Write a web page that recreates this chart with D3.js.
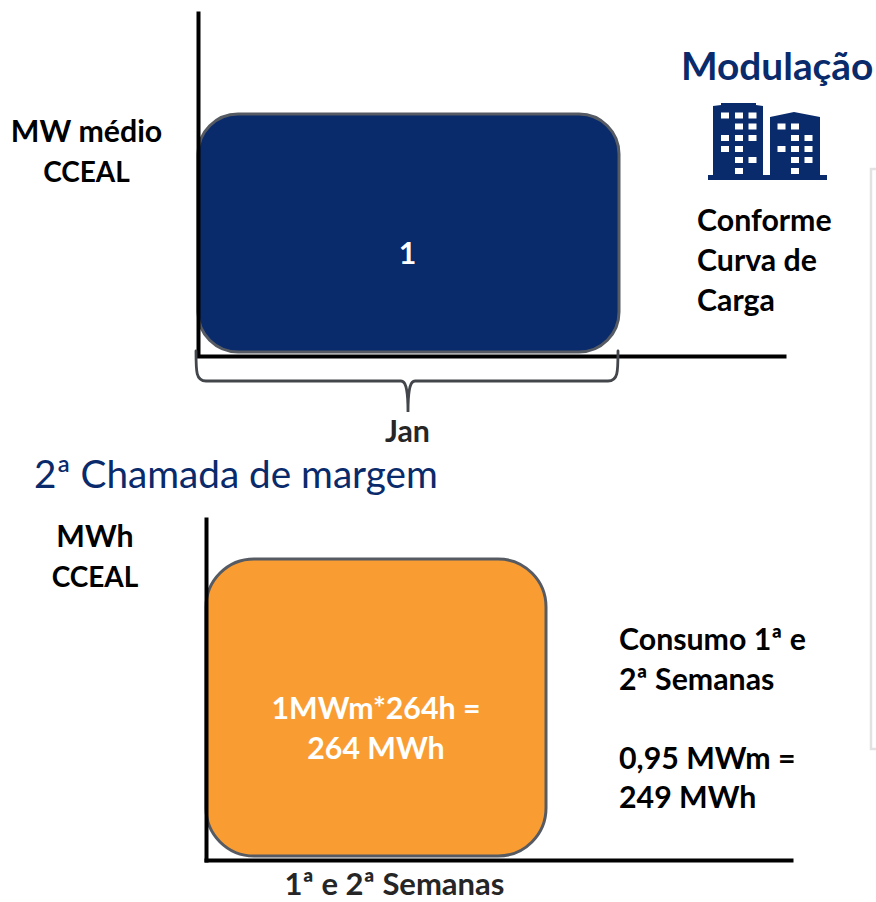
<!DOCTYPE html>
<html>
<head>
<meta charset="utf-8">
<script src="https://cdn.jsdelivr.net/npm/d3@7"></script>
<style>
html,body{margin:0;padding:0;background:#fff;overflow:hidden}
svg{display:block}
text{font-family:Lato,"Noto Sans",sans-serif;font-weight:700}
</style>
</head>
<body>
<script>
const topCategories = ["Jan"];
const topValues = [1];
const topValueLabels = ["1"];
const bottomCategories = ["1ª e 2ª Semanas"];
const bottomValues = [264];
const bottomValueLabels = [["1MWm*264h =", "264 MWh"]];
const topAxisTitle = ["MW médio", "CCEAL"];
const bottomAxisTitle = ["MWh", "CCEAL"];
const sectionTitle = "2ª Chamada de margem";
const modulationTitle = "Modulação";
const modulationNote = ["Conforme", "Curva de", "Carga"];
const consumptionNote = ["Consumo 1ª e", "2ª Semanas", "", "0,95 MWm =", "249 MWh"];
const towerWindowsA = ["111", "011", "111", "110", "011", "010"];
const towerWindowsB = ["110", "011", "111", "011", "010"];

const navy = "#092a6b", orange = "#f99d33", edge = "#565b63";
const W = 876, H = 902, bodySize = 30.3;
const svg = d3.select("body").append("svg").attr("width", W).attr("height", H);

// Note panel at the right edge
svg.append("rect").attr("x", 871).attr("y", 169).attr("width", 20).attr("height", 580)
  .attr("fill", "#fff").attr("stroke", "#e2e2e2").attr("stroke-width", 2.5);

function textBlock(lines, x, y, size, step, anchor, fill) {
  const t = svg.append("text").attr("text-anchor", anchor).attr("fill", fill).attr("font-size", size);
  lines.forEach((l, i) => t.append("tspan").attr("x", x).attr("y", y + i * step)
    .attr("font-size", l === "CCEAL" ? 28 : size).text(l));
  return t;
}

// Top chart
const x1 = d3.scaleBand().domain(topCategories).range([198, 619]);
const y1 = d3.scaleLinear().domain([0, 1]).range([352, 114]);
svg.selectAll(".bar1").data(topValues).join("rect").attr("class", "bar1")
  .attr("x", (d, i) => x1(topCategories[i])).attr("width", x1.bandwidth())
  .attr("y", d => y1(d)).attr("height", d => y1(0) - y1(d))
  .attr("rx", 40).attr("fill", navy).attr("stroke", edge).attr("stroke-width", 3);
svg.selectAll(".lab1").data(topValueLabels).join("text").attr("class", "lab1")
  .attr("x", (d, i) => x1(topCategories[i]) + x1.bandwidth() / 2 - 1).attr("y", 264)
  .attr("text-anchor", "middle").attr("fill", "#fff").attr("font-size", bodySize).text(d => d);

svg.append("g").attr("transform", "translate(198,0)")
  .call(d3.axisLeft(d3.scaleLinear().range([11, 356])).tickValues([]).tickSize(0))
  .select(".domain").attr("stroke", "#000").attr("stroke-width", 4);
svg.append("g").attr("transform", "translate(0,356)")
  .call(d3.axisBottom(d3.scaleLinear().range([196, 786])).tickValues([]).tickSize(0))
  .select(".domain").attr("stroke", "#000").attr("stroke-width", 4);

// Brace under the top chart
const bl = x1.range()[0] - 2, br = x1.range()[1] - 1, bm = (bl + br) / 2 + 1;
svg.append("path")
  .attr("d", `M${bl},351 C${bl},372 ${bl},381 ${bl + 10},381 L${bm - 7},381 C${bm - 3},381 ${bm},386 ${bm},412 C${bm},386 ${bm + 3},381 ${bm + 7},381 L${br - 10},381 C${br},381 ${br},372 ${br},351`)
  .attr("fill", "none").attr("stroke", "#43464b").attr("stroke-width", 2.8).attr("stroke-linecap", "round");
svg.selectAll(".cat1").data(topCategories).join("text").attr("class", "cat1")
  .attr("x", d => x1(d) + x1.bandwidth() / 2 - 1).attr("y", 442)
  .attr("text-anchor", "middle").attr("fill", "#262626").attr("font-size", bodySize).text(d => d);

textBlock(topAxisTitle, 86.5, 142, bodySize, 40, "middle", "#000");

// Modulation block
svg.append("text").attr("x", 681).attr("y", 80).attr("fill", navy).attr("font-size", 38.8).text(modulationTitle);
const icon = svg.append("g").attr("fill", navy);
icon.append("path").attr("d", "M708,180V175H713V106L721,105V103H756V105L763,106V175H770V117L794,112L820,117V175H827V180Z");
const colsA = [721, 735, 748.5], rowsA = [112.5, 123.5, 135, 146, 157, 168];
const colsB = [777.5, 791, 804.5], rowsB = [123.5, 135, 146, 157, 168];
function windows(pattern, cols, rows) {
  pattern.forEach((r, j) => r.split("").forEach((c, i) => {
    if (c === "1") icon.append("rect").attr("x", cols[i]).attr("y", rows[j]).attr("width", 8).attr("height", 6).attr("fill", "#fff");
  }));
}
windows(towerWindowsA, colsA, rowsA);
windows(towerWindowsB, colsB, rowsB);
textBlock(modulationNote, 697, 231, bodySize, 40, "start", "#000");

// Section title
svg.append("text").attr("x", 34).attr("y", 488).attr("fill", navy).attr("font-size", 38.7)
  .style("font-weight", 400).text(sectionTitle);

// Bottom chart
const x2 = d3.scaleBand().domain(bottomCategories).range([206, 546]);
const y2 = d3.scaleLinear().domain([0, 264]).range([856, 559]);
svg.selectAll(".bar2").data(bottomValues).join("rect").attr("class", "bar2")
  .attr("x", (d, i) => x2(bottomCategories[i])).attr("width", x2.bandwidth())
  .attr("y", d => y2(d)).attr("height", d => y2(0) - y2(d))
  .attr("rx", 48).attr("fill", orange).attr("stroke", edge).attr("stroke-width", 3);
bottomValueLabels.forEach((lines, i) =>
  textBlock(lines, x2(bottomCategories[i]) + x2.bandwidth() / 2, 719, bodySize, 40, "middle", "#fff"));

svg.append("g").attr("transform", "translate(206,0)")
  .call(d3.axisLeft(d3.scaleLinear().range([517, 862])).tickValues([]).tickSize(0))
  .select(".domain").attr("stroke", "#000").attr("stroke-width", 4);
svg.append("g").attr("transform", "translate(0,860)")
  .call(d3.axisBottom(d3.scaleLinear().range([204, 793])).tickValues([]).tickSize(0))
  .select(".domain").attr("stroke", "#000").attr("stroke-width", 4);

svg.selectAll(".cat2").data(bottomCategories).join("text").attr("class", "cat2")
  .attr("x", d => x2(d) + x2.bandwidth() / 2 + 18.5).attr("y", 895)
  .attr("text-anchor", "middle").attr("fill", "#262626").attr("font-size", 31).text(d => d);

textBlock(bottomAxisTitle, 95, 547, bodySize, 40, "middle", "#000");
textBlock(consumptionNote, 619, 650, bodySize, 39.5, "start", "#000");
</script>
</body>
</html>
